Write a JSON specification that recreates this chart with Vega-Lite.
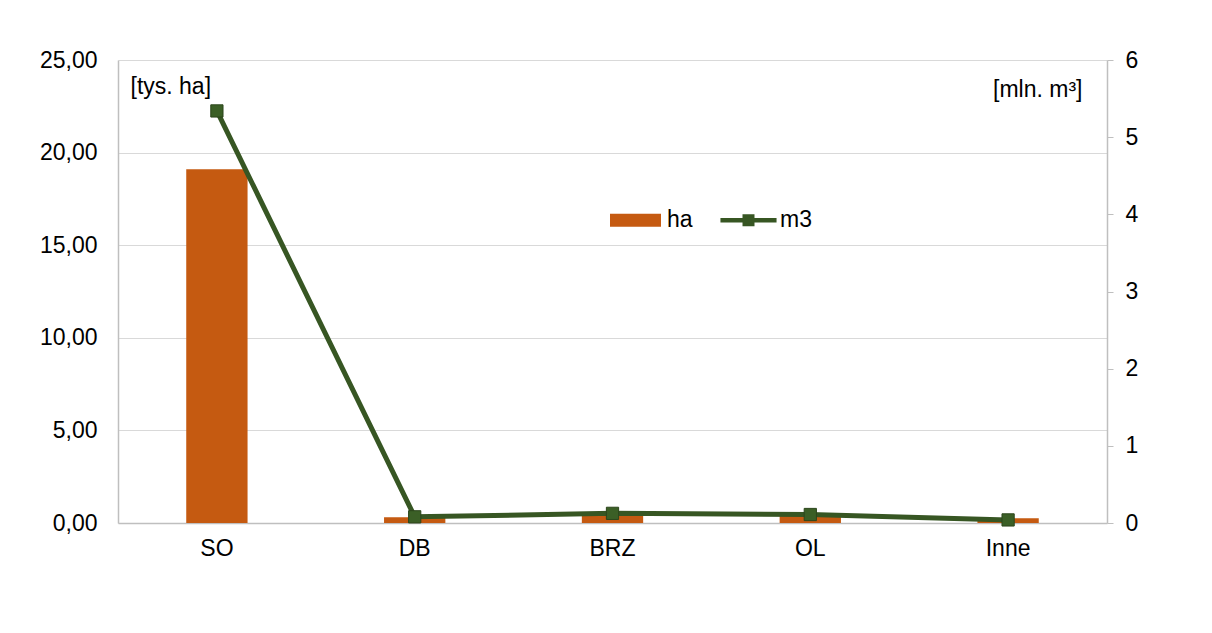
{
  "$schema": "https://vega.github.io/schema/vega-lite/v6.json",
  "autosize": "none",
  "width": 989,
  "height": 463,
  "padding": {"left": 118, "top": 60, "right": 105, "bottom": 110},
  "background": "white",
  "config": {
    "locale": {"number": {"decimal": ",", "thousands": " ", "grouping": [3], "currency": ["", ""]}},
    "font": "Liberation Sans",
    "view": {"stroke": null},
    "axis": {"labelFont": "Liberation Sans", "labelFontSize": 23, "labelColor": "#000000", "domainColor": "#bfbfbf", "gridColor": "#d9d9d9", "tickColor": "#bfbfbf", "titleFont": "Liberation Sans", "titleFontSize": 23, "titleFontWeight": "normal", "titleColor": "#000000"}
  },
  "data": {
    "values": [
      {"cat": "SO", "ha": 19.1, "m3": 5.34},
      {"cat": "DB", "ha": 0.31, "m3": 0.08},
      {"cat": "BRZ", "ha": 0.45, "m3": 0.125},
      {"cat": "OL", "ha": 0.4, "m3": 0.11},
      {"cat": "Inne", "ha": 0.25, "m3": 0.04}
    ]
  },
  "encoding": {
    "x": {
      "field": "cat", "type": "nominal", "sort": null,
      "scale": {"paddingInner": 0.69, "paddingOuter": 0.345},
      "axis": {"title": null, "labelAngle": 0, "ticks": false, "labelPadding": 14, "domainWidth": 1.5}
    }
  },
  "layer": [
    {
      "mark": {"type": "bar", "color": "#C55A11"},
      "encoding": {
        "y": {
          "field": "ha", "type": "quantitative",
          "scale": {"domain": [0, 25]},
          "axis": {"values": [0, 5, 10, 15, 20, 25], "format": ".2f", "ticks": false, "labelPadding": 21, "grid": true, "domainWidth": 1.5,
            "title": "[tys. ha]", "titleAngle": 0, "titleX": 12, "titleY": 33, "titleAlign": "left", "titleBaseline": "alphabetic"}
        },
        "color": {"datum": "ha", "type": "nominal", "scale": {"domain": ["ha", "m3"], "range": ["#C55A11", "#375623"]},
          "legend": {"title": null, "orient": "none", "legendX": 492, "legendY": 134.5, "direction": "horizontal", "labelFontSize": 23, "labelFont": "Liberation Sans", "labelColor": "#000000", "symbolSize": 2601, "symbolStrokeWidth": 0, "labelOffset": 6, "columnPadding": 27,
            "encode": {"symbols": {"update": {"shape": {"signal": "datum.value === 'ha' ? 'M-1,-0.255H1V0.255H-1Z' : 'M-1.1,-0.092H1.1V0.092H-1.1Z M-0.235,-0.235H0.235V0.235H-0.235Z'"}, "strokeWidth": {"value": 0}}}}}}
      }
    },
    {
      "mark": {"type": "line", "color": "#375623", "strokeWidth": 5},
      "encoding": {
        "y": {"field": "m3", "type": "quantitative", "scale": {"domain": [0, 6]},
          "axis": {"orient": "right", "values": [0, 1, 2, 3, 4, 5, 6], "format": "d", "grid": false, "ticks": true, "tickSize": 6, "labelPadding": 12, "domainWidth": 1.5,
            "title": "[mln. m³]", "titleAngle": 0, "titleX": -25, "titleY": 36, "titleAlign": "right", "titleBaseline": "alphabetic"}}
      }
    },
    {
      "mark": {"type": "point", "shape": "square", "filled": true, "size": 150, "color": "#3B5F26", "stroke": "#2c461c", "strokeWidth": 1, "opacity": 1},
      "encoding": {
        "y": {"field": "m3", "type": "quantitative", "scale": {"domain": [0, 6]}, "axis": null}
      }
    }
  ],
  "resolve": {"scale": {"y": "independent"}}
}
